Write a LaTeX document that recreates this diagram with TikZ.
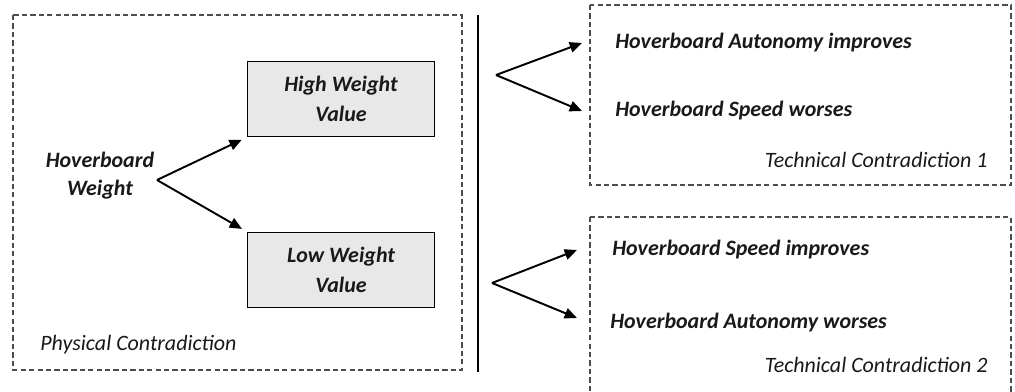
\documentclass[tikz,border=0pt]{standalone}
\usepackage{fontspec}
\setmainfont{Carlito}
\usetikzlibrary{arrows.meta}

\begin{document}
\begin{tikzpicture}[x=0.02cm, y=-0.02cm, font=\fontsize{12.5}{16}\selectfont,
    every node/.style={inner sep=0pt, text=black!90},
    frame/.style={draw=black!70, dash pattern=on 3pt off 1.8pt, line width=0.9pt},
    valbox/.style={draw, fill=black!9, line width=1.1pt, minimum width=3.74cm,
      minimum height=1.5cm, align=center, font=\fontsize{12.5}{17}\selectfont\bfseries\itshape},
    bi/.style={font=\fontsize{12.5}{16}\selectfont\bfseries\itshape},
    captxt/.style={font=\fontsize{12.5}{16}\selectfont\itshape},
    arr/.style={-{Triangle[length=7pt,width=6pt]}, line width=1.1pt}]
    \useasboundingbox (0,0) rectangle (1015,392);

    % physical contradiction
    \draw[frame] (13,15) rectangle (462,370);
    \node[valbox] (high) at (341,99) {High Weight\\Value};
    \node[valbox] (low)  at (341,270) {Low Weight\\Value};
    \node[bi, align=center] (hw) at (100,176) {Hoverboard\\Weight};
    \node[captxt, anchor=west] (pc) at (40,345) {Physical Contradiction};
    \coordinate (f0) at (157,180);
    \draw[arr, shorten >=3pt] (f0) -- (high.south west);
    \draw[arr, shorten >=3pt] (f0) -- (low.north west);

    \draw[line width=1.1pt] (478,15) -- (478,372);

    % technical contradiction 1
    \draw[frame] (590,5) rectangle (1011,185);
    \node[bi, anchor=west] (ai) at (615,43) {Hoverboard Autonomy improves};
    \node[bi, anchor=west] (sw) at (615,111) {Hoverboard Speed worses};
    \node[captxt, anchor=east] (tc1) at (988,160) {Technical Contradiction 1};
    \coordinate (f1) at (496,75);
    \coordinate (e1a) at (582,43);
    \coordinate (e1b) at (582,111);
    \draw[arr] (f1) -- (e1a);
    \draw[arr] (f1) -- (e1b);

    % technical contradiction 2
    \draw[frame] (590,217) rectangle (1011,410);
    \node[bi, anchor=west] (si) at (612,250) {Hoverboard Speed improves};
    \node[bi, anchor=west] (aw) at (610,323) {Hoverboard Autonomy worses};
    \node[captxt, anchor=east] (tc2) at (988,365) {Technical Contradiction 2};
    \coordinate (f2) at (492,283);
    \coordinate (e2a) at (577,250);
    \coordinate (e2b) at (577,318);
    \draw[arr] (f2) -- (e2a);
    \draw[arr] (f2) -- (e2b);
\end{tikzpicture}
\end{document}
